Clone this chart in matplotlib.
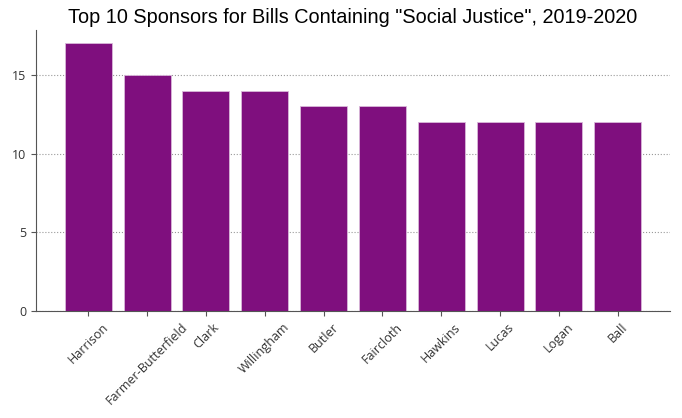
import matplotlib
matplotlib.use("Agg")
import matplotlib.pyplot as plt

sponsors = ["Harrison", "Farmer-Butterfield", "Clark", "Willingham", "Butler",
            "Faircloth", "Hawkins", "Lucas", "Logan", "Ball"]
counts = [17, 15, 14, 14, 13, 13, 12, 12, 12, 12]

fig = plt.figure(figsize=(6.82, 4.18), dpi=100)
ax = fig.add_axes([36/682, 1 - 311/418, 634/682, 281/418])
ax.bar(sponsors, counts, color="#7f0f7e", edgecolor="#d9b8d9", linewidth=0.6, zorder=2)
ax.set_yticks([0, 5, 10, 15])
ax.yaxis.grid(True, linestyle=":", color="#999999", linewidth=0.8, zorder=0)
ax.set_axisbelow(True)
for s in ["top", "right"]:
    ax.spines[s].set_visible(False)
for s in ["left", "bottom"]:
    ax.spines[s].set_color("#555555")
ax.tick_params(axis="x", labelrotation=45, colors="#555555", labelcolor="#333333", labelsize=9)
ax.tick_params(axis="y", colors="#555555", labelcolor="#333333", labelsize=9)
for lab in ax.get_xticklabels() + ax.get_yticklabels():
    lab.set_family("Open Sans")
ax.set_title('Top 10 Sponsors for Bills Containing "Social Justice", 2019-2020',
             fontsize=14.3, family="Liberation Sans", pad=5)
fig.savefig("out.png", dpi=100)
